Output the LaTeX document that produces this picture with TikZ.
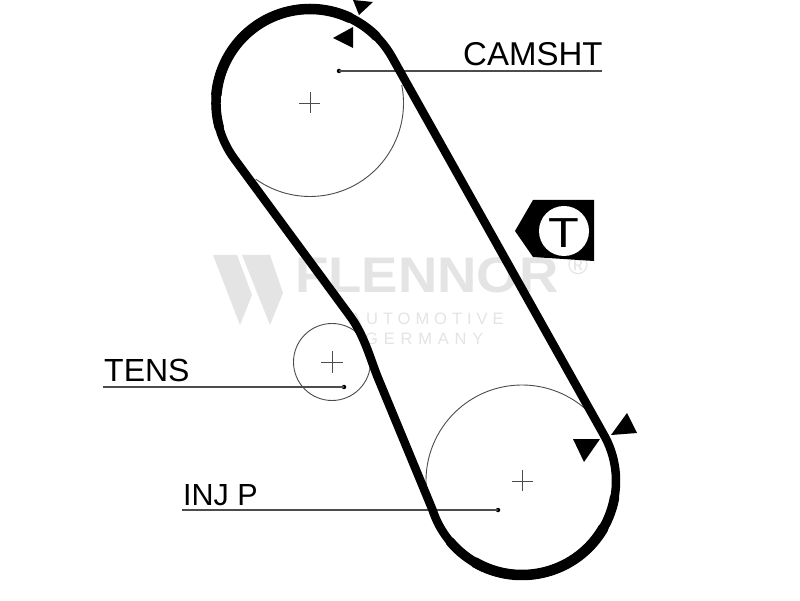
\documentclass[tikz,border=0pt]{standalone}
\usepackage{fontspec}
\setmainfont{Liberation Sans}
\definecolor{wm}{HTML}{E4E4E4}
\tikzset{
  belt/.style={line width=8.5pt,line join=round,black},
  beltmid/.style={line width=9.5pt,line cap=round,black},
  beltthick/.style={line width=10.5pt,line cap=round,black},
  thin pulley/.style={line width=0.9pt,draw=black!70},
  leader/.style={line width=1.3pt,draw=black!70},
  dotmark/.style={circle,fill=black,inner sep=0pt,minimum size=4.5pt},
  lab/.style={anchor=base west,inner sep=0pt,text=black},
  crossmark/.style={line width=0.9pt,draw=black!70},
  wmtext/.style={inner sep=0pt,text=wm},
  tip/.style={fill=black,draw=none}
}
\begin{document}
\begin{tikzpicture}[x=1pt,y=1pt]
\useasboundingbox (0,0) rectangle (800,600);
\fill[white] (0,0) rectangle (800,600);
% watermark
\fill[wm] (213,345) -- (237,345) -- (252,305) -- (240,275) -- cycle;
\fill[wm] (242,345) -- (270,345) -- (283,307) -- (270,275) -- cycle;
\node[wmtext,anchor=base west,xscale=1.09] (wmname) at (295,307) {\fontsize{50}{50}\selectfont\bfseries FLENNOR};
\node[wmtext,anchor=base west] (wmauto) at (350,275) {\fontsize{16.5}{16.5}\selectfont\addfontfeature{LetterSpace=30}AUTOMOTIVE};
\node[wmtext,anchor=base west] (wmger) at (365,255) {\fontsize{16.5}{16.5}\selectfont\addfontfeature{LetterSpace=35}GERMANY};
\node[wmtext] (wmreg) at (578,335) {\fontsize{27}{27}\selectfont ®};
% pulleys
\draw[thin pulley] (310,497) ++(11:93.5) arc[start angle=11,end angle=-125.5,radius=93.5];
\draw[thin pulley] (522,119) ++(185:96) arc[start angle=185,end angle=48,radius=96];
\draw[thin pulley] (332,238) circle[radius=38.5];
% centre crosses
\draw[crossmark] (299,497) -- (320,497) (310,487) -- (310,508);
\draw[crossmark] (321,238) -- (343,238) (332,227) -- (332,249);
\draw[crossmark] (512,119) -- (533,119) (522,109) -- (522,130);
% leaders
\node[lab] (cam) at (463,534) {\fontsize{33}{33}\selectfont CAMSHT};
\node[lab] (tens) at (104,218) {\fontsize{32}{32}\selectfont TENS};
\node[lab] (inj) at (183,95) {\fontsize{30.5}{30.5}\selectfont INJ P};
\coordinate (camend) at (602,529);
\coordinate (tensend) at (103,213);
\coordinate (injend) at (182,90);
\node[dotmark] (camdot) at (339,529) {};
\node[dotmark] (tensdot) at (344,213) {};
\node[dotmark] (injdot) at (498,90) {};
\draw[leader] (camdot.center) -- (camend);
\draw[leader] (tensend) -- (tensdot.center);
\draw[leader] (injend) -- (injdot.center);
% belt
\draw[belt] (391.4,544) -- (603.4,166) arc[start angle=30,end angle=-162,radius=94]
  -- (378,222) .. controls (370.4,240.5) and (364.8,263.9) .. (350,284)
  -- (234.4,441.1) arc[start angle=216.5,end angle=30,radius=94] -- cycle;
\draw[beltmid] (310,497) ++(195:94) arc[start angle=195,end angle=45,radius=94];
\draw[beltthick] (310,497) ++(175:94) arc[start angle=175,end angle=65,radius=94];
\draw[beltmid] (522,119) ++(-140:94) arc[start angle=-140,end angle=-10,radius=94];
\draw[beltthick] (522,119) ++(-120:94) arc[start angle=-120,end angle=-30,radius=94];
% timing marks
\fill[tip] (353,600) -- (373,598) -- (359,585) -- cycle;
\fill[tip] (333,562) -- (353,573) -- (353,552) -- cycle;
\fill[tip] (611,165) -- (627,187) -- (637,167) -- cycle;
\fill[tip] (573,161) -- (600,161) -- (584,138) -- cycle;
% tension symbol
\fill[black] (533,400) -- (594,400) -- (594,339) -- (533,343) -- (515,369) -- cycle;
\node[circle,fill=white,minimum size=50pt,inner sep=0pt] (tcirc) at (564,369) {};
\node[inner sep=0pt,text=black,xscale=1.2] (tletter) at (564,367) {\fontsize{42}{42}\selectfont T};
\end{tikzpicture}
\end{document}
